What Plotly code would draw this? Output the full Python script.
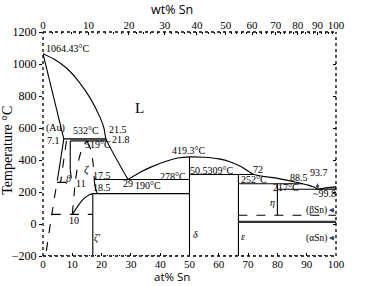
import plotly.graph_objects as go

# ---------------- data (at% Sn, temperature °C) ----------------
liquidus_au_side = [(0, 1064.43), (4, 1028), (8, 975), (12, 895), (16, 790), (19.5, 665), (20.8, 600), (21.5, 532), (29, 278)]
solidus_au = [(0, 1064.43), (7.1, 532)]
solvus_au_solid = [(7.1, 532), (5.4, 330)]
solvus_au_dash = [(5.4, 330), (3.0, 60), (0.9, -200)]
line_532 = [(7.1, 532), (21.5, 532)]
line_519 = [(9.3, 519), (21.8, 519)]
beta_left_dash = [(8.0, 519), (6.0, 260)]
beta_right_solid = [(9.3, 519), (9.3, 340)]
beta_right_dash = [(9.3, 340), (9.8, 260)]
line_260_dash = [(4.8, 260), (11.0, 260)]
zeta_left_dash = [(10.0, 60), (10.6, 180), (11.0, 260), (12.2, 400), (13.5, 480), (15.0, 519)]
zeta_right_dash = [(15.0, 519), (16.3, 465), (17.1, 380), (17.5, 278)]
zeta_right_solid = [(17.5, 278), (17.8, 230), (18.5, 190)]
zeta_prime_curve = [(10.0, 60), (12.0, 115), (14.0, 160), (16.0, 185), (17.0, 190)]
line_60_dash = [(3.0, 60), (17.0, 60)]
zeta_prime_vert = [(17.0, 190), (17.0, -200)]
line_190 = [(17.0, 190), (50.0, 190)]
line_278 = [(17.5, 278), (50.0, 278)]
liquidus_dome = [(29, 278), (33, 322), (37, 357), (42, 392), (46, 412), (50, 419.3), (55, 417), (60, 407),
                 (64, 388), (68, 355), (72, 309), (80, 285), (86, 263), (88.5, 252), (90.5, 243), (92.5, 231), (93.7, 217)]
liquidus_sn = [(93.7, 217), (96, 224), (98, 229), (100, 231.9681)]
delta_vert = [(50.0, 419.3), (50.0, -200)]
line_309 = [(50.0, 309), (72.0, 309)]
eps_vert = [(66.7, 309), (66.7, -200)]
line_252 = [(66.7, 252), (88.5, 252)]
eta_vert = [(80.0, 252), (80.0, 55)]
line_217 = [(80.0, 217), (99.8, 217)]
sn_solvus = [(99.8, 217), (100, 231.9681)]
line_55_dash = [(66.7, 55), (100, 55)]
line_13 = [(66.7, 13), (100, 13)]

wt_ticks = [0, 10, 20, 30, 40, 50, 60, 70, 80, 90, 100]
wt_minor = list(range(0, 101, 2))
y_ticks = [-200, 0, 200, 400, 600, 800, 1000, 1200]
at_ticks = [0, 10, 20, 30, 40, 50, 60, 70, 80, 90, 100]

M_SN, M_AU = 118.71, 196.97


def wt_to_at(w):
    a = w / M_SN
    b = (100 - w) / M_AU
    return 100 * a / (a + b)


SERIF = "Liberation Serif"
SANS = "Open Sans"

fig = go.Figure()


def add(pts, dash="solid", width=1.1, color="black"):
    fig.add_trace(go.Scatter(x=[p[0] for p in pts], y=[p[1] for p in pts], mode="lines",
                             line=dict(color=color, width=width, dash=dash, shape="spline", smoothing=0.6),
                             hoverinfo="skip", showlegend=False))


# gray band between 532 and 519
band_pts = [(9.3, 532), (21.5, 532), (21.8, 519), (9.3, 519), (9.3, 532)]
fig.add_trace(go.Scatter(x=[p[0] for p in band_pts], y=[p[1] for p in band_pts], mode="lines",
                         line=dict(width=0), fill="toself", fillcolor="#9a9a9a", hoverinfo="skip", showlegend=False))
# gray L+(βSn) sliver
sliver = liquidus_sn + [(100, 217), (93.7, 217)]
fig.add_trace(go.Scatter(x=[p[0] for p in sliver], y=[p[1] for p in sliver], mode="lines",
                         line=dict(width=0), fill="toself", fillcolor="#a0a0a0", hoverinfo="skip", showlegend=False))

for pts in [liquidus_au_side, solidus_au, solvus_au_solid, line_532, line_519, beta_right_solid,
            zeta_right_solid, zeta_prime_curve, zeta_prime_vert, line_190, line_278, liquidus_dome,
            liquidus_sn, delta_vert, line_309, eps_vert, line_252, eta_vert, line_217, sn_solvus]:
    add(pts)
add(line_13, width=2.2, color="#333")
for pts in [solvus_au_dash, beta_left_dash, beta_right_dash, line_260_dash, zeta_left_dash,
            zeta_right_dash, line_60_dash, line_55_dash]:
    add(pts, dash="dash", width=1.1)

# invisible traces for secondary axes
fig.add_trace(go.Scatter(x=[0, 100], y=[0, 0], xaxis="x2", mode="lines", line=dict(width=0),
                         hoverinfo="skip", showlegend=False))
fig.add_trace(go.Scatter(x=[0, 100], y=[0, 0], yaxis="y2", mode="lines", line=dict(width=0),
                         hoverinfo="skip", showlegend=False))

# dotted frame
for (x0, y0, x1, y1) in [(0, 0, 1, 0), (0, 1, 1, 1), (0, 0, 0, 1), (1, 0, 1, 1)]:
    fig.add_shape(type="line", xref="paper", yref="paper", x0=x0, y0=y0, x1=x1, y1=y1,
                  line=dict(color="black", width=1.3, dash="dot"))

ann = []


def t(x, y, s, size=10, xa="center", italic=False, ya="middle"):
    if italic:
        s = "<i>" + s + "</i>"
    ann.append(dict(x=x, y=y, text=s, showarrow=False, xanchor=xa, yanchor=ya,
                    font=dict(family=SERIF, size=size, color="black")))


t(0.4, 1094, "1064.43°C", xa="left")
t(33, 725, "L", size=15)
t(0.3, 600, "(Au)", xa="left")
t(6.6, 521, "7.1", xa="right")
t(14.6, 582, "532°C")
t(21.8, 590, "21.5", xa="left")
t(22.8, 527, "21.8", xa="left")
t(18.7, 497, "519°C")
t(8.4, 285, "β", italic=True)
t(15.0, 340, "ζ", italic=True, size=11)
t(12.9, 255, "11")
t(20.0, 305, "17.5")
t(20.0, 228, "18.5")
t(10.5, 25, "10")
t(18.6, -90, "ζ'", italic=True)
t(29.0, 255, "29")
t(36.0, 240, "190°C")
t(44.5, 300, "278°C")
t(49.5, 458, "419.3°C")
t(57.5, 333, "50.5309°C")
t(73.3, 340, "72")
t(66.8, 278, "252°C", xa="left")
t(87.5, 292, "88.5")
t(94.2, 320, "93.7")
t(83.0, 230, "217°C")
t(96.0, 190, "~99.8")
t(78.3, 135, "η", italic=True)
t(52.2, -65, "δ", italic=True)
t(68.2, -75, "ε", italic=True)
t(97.5, 86, "(βSn)", size=9.5, xa="right")
t(97.5, -88, "(αSn)", size=9.5, xa="right")
t(101.3, 249, "231.9681°C", xa="left")
t(101.3, 13, "13°C", xa="left")

# arrows (pointing left, from the axis toward the labels)
for yy in (86, -88):
    ann.append(dict(x=97.6, y=yy, ax=100, ay=yy, axref="x", ayref="y", xref="x", yref="y",
                    showarrow=True, arrowhead=2, arrowsize=0.8, arrowwidth=1.2, text=""))
ann.append(dict(x=93.7, y=217, ax=93.7, ay=262, axref="x", ayref="y", xref="x", yref="y",
                showarrow=True, arrowhead=2, arrowsize=0.8, arrowwidth=1, text=""))

# axis titles
ann.append(dict(x=0.44, y=1.0, xref="paper", yref="paper", yshift=23, text="wt% Sn", showarrow=False,
                xanchor="center", yanchor="middle", font=dict(family=SANS, size=12.5, color="black")))
ann.append(dict(x=0.44, y=0.0, xref="paper", yref="paper", yshift=-29, text="at% Sn", showarrow=False,
                xanchor="center", yanchor="bottom", borderpad=0,
                font=dict(family=SANS, size=11.5, color="black")))
ann.append(dict(x=0.0, y=0.47, xref="paper", yref="paper", xshift=-35, text="Temperature °C", showarrow=False,
                textangle=-90, xanchor="center", yanchor="middle", font=dict(family=SERIF, size=14, color="black")))

tickfont = dict(family=SERIF, size=12, color="black")
xtickfont = dict(family=SERIF, size=11, color="black")
common = dict(showgrid=False, zeroline=False, showline=False, automargin=False, tickcolor="black")
fig.update_layout(
    width=387, height=286, margin=dict(l=43, r=51, t=32, b=30, autoexpand=False),
    paper_bgcolor="white", plot_bgcolor="white", annotations=ann,
    xaxis=dict(range=[0, 100], tickvals=at_ticks, ticks="inside", ticklen=3, tickfont=xtickfont,
               minor=dict(dtick=2, ticks="inside", ticklen=1.5, tickcolor="black"), **common),
    xaxis2=dict(range=[0, 100], overlaying="x", side="top", tickvals=[wt_to_at(w) for w in wt_ticks],
                ticktext=[str(w) for w in wt_ticks], ticks="inside", ticklen=3, tickfont=xtickfont,
                minor=dict(tickvals=[wt_to_at(w) for w in wt_minor], ticks="inside", ticklen=1.5, tickcolor="black"),
                **common),
    yaxis=dict(range=[-200, 1200], tickvals=y_ticks, ticks="outside", ticklen=3, tickfont=tickfont, **common),
    yaxis2=dict(range=[-200, 1200], overlaying="y", side="right", tickvals=y_ticks, ticks="inside",
                ticklen=3, showticklabels=False, **common),
)

fig.write_html("out.html", config={"displayModeBar": False},
               post_script="document.body.style.margin='0';document.body.style.overflow='hidden';")
